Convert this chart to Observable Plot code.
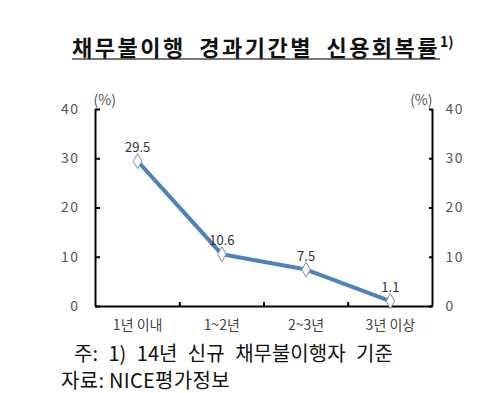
<!DOCTYPE html>
<html><head><meta charset="utf-8">
<script src="https://cdn.jsdelivr.net/npm/d3@7"></script>
<script src="https://cdn.jsdelivr.net/npm/@observablehq/plot@0.6"></script>
<style>
body{margin:0;background:#fff;}
#wrap{position:relative;width:500px;height:393px;font-family:"Noto Sans CJK KR","Noto Sans",sans-serif;overflow:hidden;}
#chart{position:absolute;left:0;top:0;}
.title{position:absolute;left:72px;top:34px;font-size:22px;font-weight:bold;color:#111;line-height:24px;white-space:pre;letter-spacing:2.5px;word-spacing:6px;}
.title .u{text-decoration:underline;text-decoration-color:#777;text-decoration-thickness:2px;text-underline-offset:2px;}
.title sup{font-size:14px;vertical-align:top;position:relative;top:-5px;margin-left:0px;letter-spacing:0;}
.note{position:absolute;font-size:20px;color:#111;line-height:18px;white-space:pre;}
#chart text.xl{letter-spacing:1px;}
#chart g.yl text{letter-spacing:1.5px;}
</style></head><body>
<div id="wrap">
<div id="chart"></div>
<div class="title"><span class="u">채무불이행 경과기간별 신용회복률</span><sup>1)</sup></div>
<div class="note" style="left:74px;top:344px;word-spacing:6px">주: 1) 14년 신규 채무불이행자 기준</div>
<div class="note" style="left:61px;top:371px;letter-spacing:0.3px">자료: NICE평가정보</div>
</div>
<script>
const categories = ["1년 이내", "1~2년", "2~3년", "3년 이상"];
const values = [29.5, 10.6, 7.5, 1.1];
const yTicks = [0, 10, 20, 30, 40];
const unitLabel = "(%)";

const data = categories.map((c, i) => ({i, c, v: values[i]}));
const idx = data.map(d => d.i);
const bounds = idx.slice(1).map(i => i - 0.5);
const xEdges = [-0.5, categories.length - 0.5];

const chart = Plot.plot({
  width: 500, height: 393,
  marginLeft: 95, marginRight: 68, marginTop: 109, marginBottom: 87,
  x: {domain: xEdges, label: null},
  y: {domain: [0, 40], label: null},
  style: {fontFamily: '"Noto Sans CJK KR","Noto Sans",sans-serif', fontSize: "14px", color: "#555", background: "transparent", overflow: "visible"},
  marks: [
    Plot.axisY(yTicks, {anchor: "left", label: null, tickSize: 0, tickPadding: 16, fontSize: 14, fill: "#555", className: "yl"}),
    Plot.axisY(yTicks, {anchor: "left", label: null, tickSize: -5, tickFormat: () => "", stroke: "#000", strokeWidth: 2}),
    Plot.axisY(yTicks, {anchor: "right", label: null, tickSize: 0, tickPadding: 13, fontSize: 14, fill: "#555", className: "yl"}),
    Plot.axisY(yTicks, {anchor: "right", label: null, tickSize: -4, tickFormat: () => "", stroke: "#000", strokeWidth: 2}),
    Plot.axisX(idx, {label: null, tickSize: 0, tickPadding: 14, tickFormat: i => categories[i], fontSize: 14, fill: "#444", className: "xl"}),
    Plot.axisX(bounds, {label: null, tickSize: -4, tickFormat: () => "", stroke: "#000", strokeWidth: 2}),
    Plot.ruleX(xEdges, {stroke: "#000", strokeWidth: 2}),
    Plot.ruleY([0], {stroke: "#000", strokeWidth: 2}),
    Plot.text([unitLabel], {frameAnchor: "top-left", textAnchor: "start", dx: -2, dy: -14, fontSize: 14, fill: "#555"}),
    Plot.text([unitLabel], {frameAnchor: "top-right", textAnchor: "end", dx: 0, dy: -14, fontSize: 14, fill: "#555"}),
    Plot.line(data, {x: "i", y: "v", stroke: "#4f81bd", strokeWidth: 4}),
    Plot.dot(data, {x: "i", y: "v", symbol: "diamond", r: 4.5, fill: "white", stroke: "#6f8fb8", strokeWidth: 1}),
    Plot.text(data, {x: "i", y: "v", text: d => d.v.toFixed(1), dy: -13, fontSize: 13, fill: "#333"})
  ]
});
document.getElementById("chart").appendChild(chart);
</script>
</body></html>
